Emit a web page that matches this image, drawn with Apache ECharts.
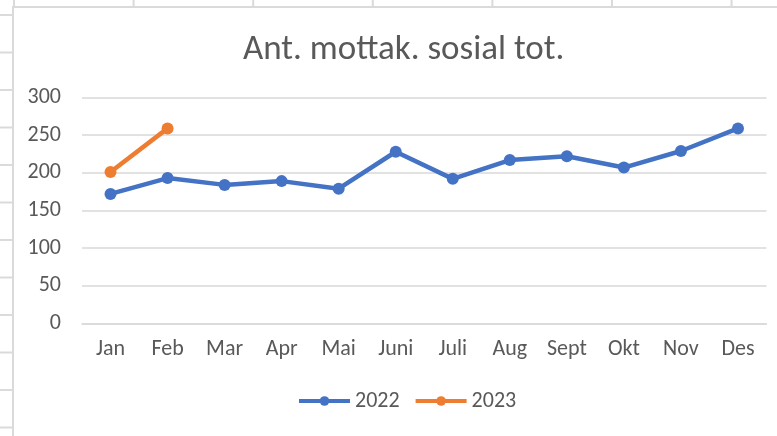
<!DOCTYPE html>
<html><head><meta charset="utf-8">
<script src="https://cdn.jsdelivr.net/npm/echarts@6/dist/echarts.min.js"></script>
<style>
html,body{margin:0;padding:0;width:777px;height:436px;overflow:hidden;background:#fff;}
#sheet{position:absolute;left:0;top:0;width:777px;height:436px;
 background-image:
  linear-gradient(to right, #dadada 0, #dadada 2px, transparent 2px),
  linear-gradient(to bottom, #dadada 0, #dadada 2px, transparent 2px);
 background-size:119.6px 37.5px, 119.6px 37.5px;
 background-position:13px 0, 0 14px;}
#chart{position:absolute;left:12px;top:6px;width:765px;height:430px;background:#fff;
 border-left:2px solid #dadada;border-top:2px solid #dadada;box-sizing:border-box;}
</style></head>
<body><div id="sheet"></div><div id="chart"></div>
<script>
const categories = ['Jan','Feb','Mar','Apr','Mai','Juni','Juli','Aug','Sept','Okt','Nov','Des'];
const series2022 = [172,193,184,189,179,228,192,217,222,207,229,259];
const series2023 = [201,259];
const yTicks = [0,50,100,150,200,250,300];

const chart = echarts.init(document.getElementById('chart'));
const font = 'Calibri, Carlito, "Liberation Sans", sans-serif';
chart.setOption({
  animation:false,
  title:{text:'Ant. mottak. sosial tot.', left:229, top:25, padding:0,
    textStyle:{color:'#595959', fontSize:35, fontWeight:'normal', fontFamily:font}},
  grid:{left:68, right:10.5, top:89.5, bottom:112.5, containLabel:false},
  legend:{bottom:24, left:283, padding:0, itemWidth:51, itemHeight:12, itemGap:14,
    lineStyle:{width:4},
    textStyle:{color:'#595959', fontSize:22, fontFamily:font},
    data:['2022','2023']},
  xAxis:{type:'category', data:categories, boundaryGap:true,
    axisLine:{show:true, lineStyle:{color:'#d9d9d9', width:1.5}},
    axisTick:{show:false},
    axisLabel:{color:'#595959', fontSize:22, fontFamily:font, margin:15}},
  yAxis:{type:'value', min:yTicks[0], max:yTicks[yTicks.length-1], interval:50,
    axisLine:{show:false}, axisTick:{show:false},
    splitLine:{lineStyle:{color:'#d9d9d9', width:1.5}},
    axisLabel:{color:'#595959', fontSize:22, fontFamily:font, margin:21}},
  series:[
    {name:'2022', type:'line', data:series2022, color:'#4472C4',
      lineStyle:{width:4.5, color:'#4472C4'}, symbol:'circle', symbolSize:12,
      itemStyle:{color:'#4472C4'}},
    {name:'2023', type:'line', data:series2023, color:'#ED7D31',
      lineStyle:{width:4.5, color:'#ED7D31'}, symbol:'circle', symbolSize:12,
      itemStyle:{color:'#ED7D31'}}
  ]
});
</script></body></html>
